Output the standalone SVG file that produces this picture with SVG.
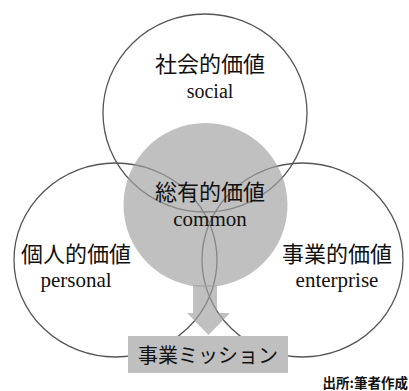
<svg xmlns="http://www.w3.org/2000/svg" width="409" height="391" viewBox="0 0 409 391">
<style>
.ring{fill:none;stroke:#555;stroke-width:1.3}
.jp{font-family:"Noto Sans CJK JP","Noto Sans",sans-serif;fill:#111}
.en{font-family:"Liberation Serif",serif;fill:#111}
.ov{fill:#a0a0a0;fill-opacity:0.66}
</style>
<rect width="409" height="391" fill="#fff"/>
<g id="connectors">
<ellipse id="ring-social" class="ring" cx="205" cy="113" rx="102" ry="99"/>
<ellipse id="ring-personal" class="ring" cx="115.5" cy="260" rx="101.5" ry="97"/>
<ellipse id="ring-enterprise" class="ring" cx="302.5" cy="260" rx="100.5" ry="97"/>
</g>
<g id="common">
<circle class="ov" cx="205.5" cy="205" r="82"/>
</g>
<g id="arrow">
<path class="ov" d="M193,285 H217 V313 H230 L208.5,335 L187,313 H193 Z"/>
</g>
<g id="mission">
<rect x="128" y="336" width="160" height="37" fill="#bfbfbf"/>
<text class="jp" x="208" y="363" font-size="20" text-anchor="middle">事業ミッション</text>
</g>
<g id="social">
<text class="jp" x="210" y="72" font-size="22" text-anchor="middle">社会的価値</text>
<text class="en" x="210" y="98" font-size="20" text-anchor="middle">social</text>
</g>
<g id="common-label">
<text class="jp" x="210" y="200" font-size="22" text-anchor="middle">総有的価値</text>
<text class="en" x="210" y="226" font-size="21" text-anchor="middle">common</text>
</g>
<g id="personal">
<text class="jp" x="76" y="262" font-size="22" text-anchor="middle">個人的価値</text>
<text class="en" x="76" y="287" font-size="21" text-anchor="middle">personal</text>
</g>
<g id="enterprise">
<text class="jp" x="337" y="262" font-size="22" text-anchor="middle">事業的価値</text>
<text class="en" x="337" y="287" font-size="21" text-anchor="middle">enterprise</text>
</g>
<g id="source">
<text class="jp" x="408" y="388" font-size="13.5" font-weight="bold" text-anchor="end">出所:筆者作成</text>
</g>
</svg>
